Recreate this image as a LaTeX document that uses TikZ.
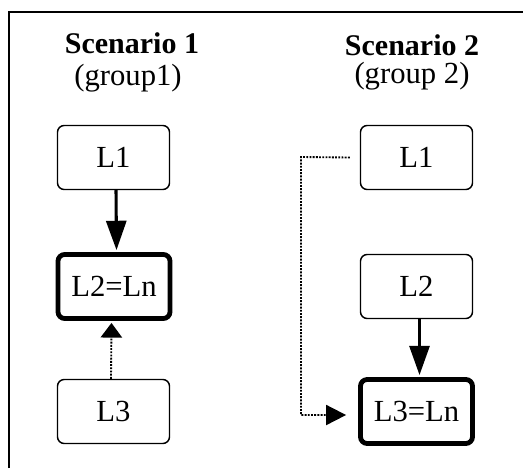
\documentclass[tikz,border=0pt]{standalone}
\usepackage{fontspec}
\setmainfont{Liberation Serif}
\usetikzlibrary{arrows.meta,calc}
\tikzset{
  lbox/.style={draw, line width=1.1pt, rounded corners=5pt, minimum width=84pt, minimum height=48pt, inner sep=0pt, font=\fontsize{23}{26}\selectfont},
  tbox/.style={lbox, line width=3.6pt},
  ttl/.style={font=\fontsize{22.5}{26}\selectfont\bfseries, inner sep=0pt, anchor=base},
  sub/.style={font=\fontsize{23}{26}\selectfont, inner sep=0pt, anchor=base},
  solidarr/.style={line width=2.3pt, -{Triangle[length=22pt,width=15pt]}},
  dotarr/.style={line width=1.4pt, dash pattern=on 1.4pt off 1pt, -{Triangle[length=11pt,width=16pt]}},
  dotarrb/.style={line width=1.4pt, dash pattern=on 1.4pt off 1pt, -{Triangle[length=15pt,width=15pt]}},
}
\begin{document}
\begin{tikzpicture}[x=0.75pt,y=-0.75pt]
\useasboundingbox (0,0) rectangle (523,468);
\draw[line width=2.2pt] (9,468) -- (9,12) -- (523,12);
% titles
\node[ttl] (t1) at (132,53) {Scenario 1};
\node[sub] (g1) at (128,85) {(group1)};
\node[ttl] (t2) at (412,55) {Scenario 2};
\node[sub] (g2) at (412,83) {(group 2)};
% scenario 1
\node[lbox] (a1) at (113.5,157.5) {L1};
\node[tbox] (a2) at (114,286.5) {L2=Ln};
\node[lbox] (a3) at (113.5,411.5) {L3};
\draw[solidarr] ($(a1.south)+(2.5,0)$) -- ($(a2.north)+(2.5,-2)$);
\draw[dotarr] ($(a3.north)+(-2.5,0)$) -- ($(a2.south)+(-2.5,2)$);
% scenario 2
\node[lbox] (b1) at (416.5,157.5) {L1};
\node[lbox] (b2) at (416.5,286.5) {L2};
\node[tbox] (b3) at (416.5,411.5) {L3=Ln};
\draw[solidarr] ($(b2.south)+(3,0)$) -- ($(b3.north)+(3,-2)$);
\coordinate (c1) at (301,157);
\coordinate (c2) at (301,415);
\draw[dotarrb] ($(b1.west)+(-10,0)$) -- (c1) -- (c2) -- ($(b3.west |- c2)+(-12,0)$);
\end{tikzpicture}
\end{document}
